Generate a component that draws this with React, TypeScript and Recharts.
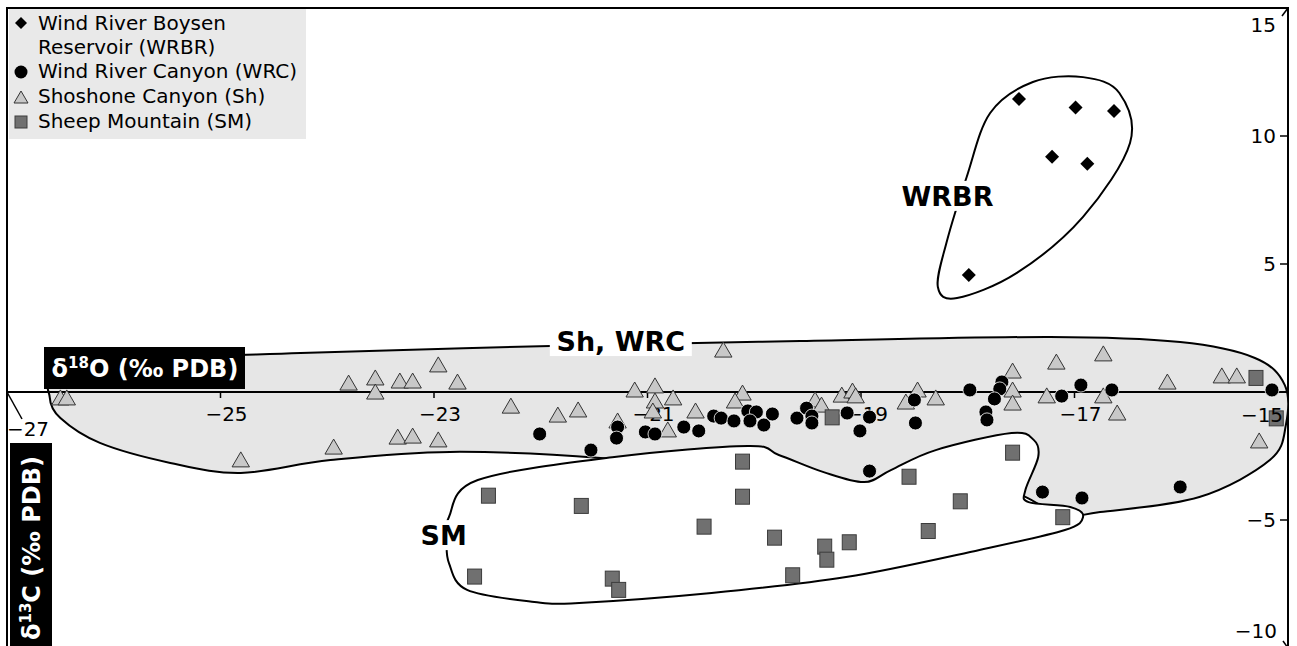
import React from 'react'
import { ScatterChart, Scatter, XAxis, YAxis, ReferenceArea, Legend } from 'recharts'

const FONT = '"DejaVu Sans", Verdana, sans-serif'

// [δ18O, δ13C]
const wrbr: [number, number][] = [
  [-17.52, 11.45], [-16.99, 11.11], [-16.63, 10.98], [-17.21, 9.19], [-16.88, 8.92], [-17.99, 4.57],
]

const wrc: [number, number][] = [
  [-22.01, -1.64], [-21.53, -2.27], [-21.28, -1.37], [-21.29, -1.8], [-21.02, -1.56], [-20.93, -1.64],
  [-20.66, -1.37], [-20.52, -1.52], [-20.38, -0.94], [-20.31, -1.02], [-20.19, -1.13], [-20.06, -0.74],
  [-19.98, -0.78], [-20.04, -1.13], [-19.91, -1.29], [-19.83, -0.86], [-19.6, -1.02], [-19.51, -0.63],
  [-19.46, -0.94], [-19.46, -1.21], [-19.13, -0.82], [-18.92, -0.98], [-19.01, -1.52], [-18.5, -0.31],
  [-18.49, -1.21], [-18.92, -3.09], [-17.98, 0.08], [-17.68, 0.39], [-17.7, 0.12], [-17.75, -0.27],
  [-17.83, -0.78], [-17.82, -1.09], [-17.12, -0.16], [-16.94, 0.27], [-16.65, 0.08], [-15.15, 0.08],
  [-17.3, -3.91], [-16.93, -4.14], [-16.01, -3.71],
]

const sh: [number, number][] = [
  [-26.5, -0.31], [-26.44, -0.31], [-24.81, -2.73], [-23.94, -2.23], [-23.8, 0.27], [-23.55, 0.47],
  [-23.55, -0.08], [-23.32, 0.35], [-23.2, 0.35], [-23.34, -1.84], [-23.2, -1.8], [-22.96, 0.98],
  [-22.78, 0.31], [-22.96, -1.95], [-22.28, -0.63], [-21.84, -0.98], [-21.65, -0.78], [-21.12, 0],
  [-20.93, 0.16], [-20.93, -0.43], [-20.76, -0.31], [-20.55, -0.82], [-21.28, -1.21], [-20.95, -0.82],
  [-20.81, -1.56], [-20.29, 1.56], [-20.11, -0.12], [-20.18, -0.43], [-19.43, -0.39], [-19.37, -0.59],
  [-19.18, -0.2], [-19.08, -0.04], [-19.05, -0.23], [-18.58, -0.47], [-18.47, 0], [-18.3, -0.31],
  [-17.58, 0.74], [-17.58, 0], [-17.58, -0.51], [-17.26, -0.23], [-17.17, 1.09], [-16.73, 1.41],
  [-16.73, -0.23], [-16.6, -0.9], [-16.13, 0.31], [-15.62, 0.55], [-15.48, 0.55], [-15.27, -1.99],
]

const sm: [number, number][] = [
  [-22.49, -4.05], [-21.62, -4.45], [-20.11, -2.72], [-20.11, -4.09], [-20.47, -5.26], [-19.81, -5.69],
  [-19.34, -6.04], [-19.32, -6.55], [-19.11, -5.87], [-19.64, -7.16], [-18.55, -3.31], [-18.07, -4.27],
  [-18.37, -5.43], [-17.58, -2.37], [-17.11, -4.89], [-22.62, -7.21], [-21.33, -7.29], [-21.27, -7.73],
  [-19.27, -0.99], [-15.3, 0.55], [-15.11, -1.03],
]

// hand-drawn group outlines
const shOutline: [number, number][] = [
  [-26.6, -0.2], [-26.52, 0.55], [-25.66, 1.25], [-24.25, 1.52], [-21.91, 1.8], [-19.57, 1.99],
  [-17.23, 2.15], [-16.01, 1.95], [-15.31, 1.33], [-15.03, 0.27], [-15.02, -1.29], [-15.17, -2.66],
  [-15.83, -4.1], [-16.76, -4.69], [-17.14, -4.8], [-17.7, -3.83], [-18.97, -4.06], [-20.51, -3.13],
  [-21.44, -2.58], [-22.85, -2.34], [-23.97, -2.66], [-24.81, -3.16], [-25.47, -2.77], [-26.13, -1.99],
  [-26.5, -1.02],
]

const smOutline: [number, number][] = [
  [-20.06, -2.11], [-19.77, -2.46], [-19.35, -3.13], [-18.97, -3.52], [-18.72, -3.05], [-18.3, -2.27],
  [-17.59, -1.6], [-17.38, -1.88], [-17.34, -2.54], [-17.46, -3.83], [-17.43, -4.3], [-17.04, -4.49],
  [-16.92, -4.88], [-17.09, -5.39], [-17.89, -6.17], [-19.14, -7.23], [-20.4, -7.85], [-21.64, -8.24],
  [-22.06, -8.2], [-22.69, -7.73], [-22.86, -6.68], [-22.88, -5.78], [-22.86, -4.88], [-22.59, -3.44],
  [-21.31, -2.54],
]

const wrbrOutline: [number, number][] = [
  [-16.92, 12.3], [-17.39, 12.11], [-17.79, 10.9], [-18.01, 8.4], [-18.2, 5.82], [-18.28, 4.1],
  [-18.1, 3.67], [-17.54, 4.65], [-16.92, 6.84], [-16.48, 9.73], [-16.58, 11.68],
]

const xTicks = [-27, -25, -23, -21, -19, -17, -15]
const yTicks = [15, 10, 5, -5, -10]

const legendItems = [
  { key: 'wrbr', lines: ['Wind River Boysen', 'Reservoir (WRBR)'] },
  { key: 'wrc', lines: ['Wind River Canyon (WRC)'] },
  { key: 'sh', lines: ['Shoshone Canyon (Sh)'] },
  { key: 'sm', lines: ['Sheep Mountain (SM)'] },
]

const toPts = (arr: [number, number][]) => arr.map(([x, y]) => ({ x, y }))
const minus = (v: number) => (v < 0 ? `\u2212${Math.abs(v)}` : `${v}`)

// closed catmull-rom through the outline points
function smoothClosed(pts: { x: number; y: number }[]) {
  const n = pts.length
  let d = `M${pts[0].x},${pts[0].y}`
  for (let i = 0; i < n; i++) {
    const p0 = pts[(i - 1 + n) % n]
    const p1 = pts[i]
    const p2 = pts[(i + 1) % n]
    const p3 = pts[(i + 2) % n]
    const c1x = p1.x + (p2.x - p0.x) / 6
    const c1y = p1.y + (p2.y - p0.y) / 6
    const c2x = p2.x - (p3.x - p1.x) / 6
    const c2y = p2.y - (p3.y - p1.y) / 6
    d += ` C${c1x},${c1y} ${c2x},${c2y} ${p2.x},${p2.y}`
  }
  return d + 'Z'
}

const blobLine = (fill: string) => (p: any) => (
  <path d={smoothClosed(p.points)} fill={fill} stroke="#000" strokeWidth={2} />
)

const noDot = () => <g />

const Diamond = ({ cx, cy }: any) => (
  <polygon points={`${cx},${cy - 7} ${cx + 7},${cy} ${cx},${cy + 7} ${cx - 7},${cy}`} fill="#000" />
)
const Dot = ({ cx, cy }: any) => <circle cx={cx} cy={cy} r={7} fill="#000" stroke="#fff" strokeWidth={0.8} />
const Tri = ({ cx, cy }: any) => (
  <polygon
    points={`${cx},${cy - 10} ${cx + 8.7},${cy + 5} ${cx - 8.7},${cy + 5}`}
    fill="#c8c8c8"
    stroke="#333"
    strokeWidth={1}
  />
)
const Sq = ({ cx, cy }: any) => (
  <rect x={cx - 7} y={cy - 7.5} width={14} height={15} fill="#707070" stroke="#3c3c3c" strokeWidth={1} />
)

const tickText = (x: number, y: number, v: number, anchor = 'middle') => (
  <text x={x} y={y} textAnchor={anchor as any} fontFamily={FONT} fontSize={20} fill="#000">
    {minus(v)}
  </text>
)

const XTick = ({ cx, cy, payload }: any) => {
  const v = payload.x
  if (v === -27) {
    return (
      <g>
        <line x1={cx} y1={cy} x2={cx + 15} y2={cy + 27} stroke="#000" strokeWidth={1.5} />
        {tickText(cx + 21, cy + 44, v)}
      </g>
    )
  }
  // the -15 label sits above the markers, drawn by its own series further down
  if (v === -15) return <g />
  return (
    <g>
      <line x1={cx} y1={cy} x2={cx} y2={cy + 6} stroke="#000" strokeWidth={1.5} />
      {tickText(cx + 6, cy + 29, v)}
    </g>
  )
}

const LastXTick = ({ cx, cy, payload }: any) => tickText(cx - 26, cy + 30, payload.x)

const YTick = ({ x, y, payload }: any) => {
  const v = payload.value
  if (v === 15) {
    return (
      <g>
        <line x1={x} y1={y} x2={x - 6} y2={y + 8} stroke="#000" strokeWidth={1.5} />
        {tickText(x - 12, y + 24, v, 'end')}
      </g>
    )
  }
  if (v === -10) {
    return (
      <g>
        <line x1={x} y1={y} x2={x - 5} y2={y - 7} stroke="#000" strokeWidth={1.5} />
        {tickText(x - 11, y - 10, v, 'end')}
      </g>
    )
  }
  return (
    <g>
      <line x1={x - 8} y1={y} x2={x} y2={y} stroke="#000" strokeWidth={1.5} />
      {tickText(x - 12, y + 7, v, 'end')}
    </g>
  )
}

const groupLabel = (text: string, w: number) => ({ cx, cy }: any) => (
  <g>
    <rect x={cx - w / 2} y={cy - 15} width={w} height={30} fill="#fff" />
    <text x={cx} y={cy + 10} textAnchor="middle" fontFamily={FONT} fontWeight="bold" fontSize={27} fill="#000">
      {text}
    </text>
  </g>
)

const XTitle = ({ cx, cy }: any) => (
  <g>
    <rect x={cx + 37} y={cy - 45} width={201} height={42} fill="#000" />
    <text x={cx + 138} y={cy - 15} textAnchor="middle" fontFamily={FONT} fontWeight="bold" fontSize={24} fill="#fff">
      <tspan>δ</tspan>
      <tspan fontSize={15} dy={-9}>18</tspan>
      <tspan dy={9}>O (‰ PDB)</tspan>
    </text>
  </g>
)

const YTitle = ({ cx, cy }: any) => {
  const tx = cx + 24
  const ty = cy - 100
  return (
    <g>
      <rect x={cx + 3} y={cy - 205} width={42} height={205} fill="#000" />
      <text
        x={tx}
        y={ty + 9}
        transform={`rotate(-90 ${tx} ${ty})`}
        textAnchor="middle"
        fontFamily={FONT}
        fontWeight="bold"
        fontSize={24}
        fill="#fff"
      >
        <tspan>δ</tspan>
        <tspan fontSize={15} dy={-9}>13</tspan>
        <tspan dy={9}>C (‰ PDB)</tspan>
      </text>
    </g>
  )
}

function LegendIcon({ kind }: { kind: string }) {
  return (
    <svg width={16} height={16} style={{ display: 'block' }}>
      {kind === 'wrbr' && <polygon points="8,2 14,8 8,14 2,8" fill="#000" />}
      {kind === 'wrc' && <circle cx={8} cy={8} r={6.5} fill="#000" />}
      {kind === 'sh' && <polygon points="8,2 15,14 1,14" fill="#c8c8c8" stroke="#333" strokeWidth={1} />}
      {kind === 'sm' && <rect x={2} y={2} width={12} height={12} fill="#707070" stroke="#3c3c3c" strokeWidth={1} />}
    </svg>
  )
}

function LegendBox() {
  return (
    <div
      style={{
        background: '#e9e9e9',
        width: 297,
        height: 130,
        boxSizing: 'border-box',
        paddingTop: 2,
        fontFamily: FONT,
        fontSize: 20,
        color: '#000',
      }}
    >
      {legendItems.map((item) => (
        <div key={item.key} style={{ display: 'flex', alignItems: 'flex-start' }}>
          <div
            style={{
              width: 29,
              height: item.lines.length > 1 ? 24 : 25,
              display: 'flex',
              alignItems: 'center',
              paddingLeft: 4,
              boxSizing: 'border-box',
            }}
          >
            <LegendIcon kind={item.key} />
          </div>
          <div style={{ lineHeight: item.lines.length > 1 ? '24px' : '25px', whiteSpace: 'nowrap' }}>
            {item.lines.map((l) => (
              <div key={l}>{l}</div>
            ))}
          </div>
        </div>
      ))}
    </div>
  )
}

export default function App() {
  return (
    <div style={{ position: 'absolute', left: 0, top: 0, width: 1297, height: 646, overflow: 'hidden', background: '#fff' }}>
      <ScatterChart width={1297} height={650} margin={{ top: 8, right: 0, bottom: 2, left: 7 }}>
        <XAxis type="number" dataKey="x" domain={[-27, -15]} hide allowDataOverflow />
        <YAxis
          type="number"
          dataKey="y"
          orientation="right"
          domain={[-10, 15]}
          ticks={yTicks}
          interval={0}
          width={9}
          tickSize={0}
          tickMargin={0}
          tickLine={false}
          axisLine={{ stroke: '#000', strokeWidth: 2 }}
          tick={<YTick />}
          allowDataOverflow
        />
        <ReferenceArea x1={-27} x2={-15} y1={-10} y2={15} fill="none" stroke="#000" strokeWidth={2} />

        <Scatter data={toPts(shOutline)} shape={noDot} line={blobLine('#e6e6e6')} isAnimationActive={false} />
        <Scatter data={toPts(smOutline)} shape={noDot} line={blobLine('#fff')} isAnimationActive={false} />
        <Scatter data={toPts(wrbrOutline)} shape={noDot} line={blobLine('#fff')} isAnimationActive={false} />

        <Scatter
          data={xTicks.map((x) => ({ x, y: 0 }))}
          shape={XTick}
          line={{ stroke: '#000', strokeWidth: 2 }}
          isAnimationActive={false}
        />

        <Scatter name="Shoshone Canyon (Sh)" data={toPts(sh)} shape={Tri} isAnimationActive={false} />
        <Scatter name="Sheep Mountain (SM)" data={toPts(sm)} shape={Sq} isAnimationActive={false} />
        <Scatter name="Wind River Canyon (WRC)" data={toPts(wrc)} shape={Dot} isAnimationActive={false} />
        <Scatter name="Wind River Boysen Reservoir (WRBR)" data={toPts(wrbr)} shape={Diamond} isAnimationActive={false} />

        <Scatter data={[{ x: xTicks[xTicks.length - 1], y: 0 }]} shape={LastXTick} isAnimationActive={false} />

        <Scatter data={[{ x: -18.19, y: 7.66 }]} shape={groupLabel('WRBR', 96)} isAnimationActive={false} />
        <Scatter data={[{ x: -21.25, y: 1.99 }]} shape={groupLabel('Sh, WRC', 142)} isAnimationActive={false} />
        <Scatter data={[{ x: -22.91, y: -5.59 }]} shape={groupLabel('SM', 52)} isAnimationActive={false} />

        <Scatter data={[{ x: -27, y: 0 }]} shape={XTitle} isAnimationActive={false} />
        <Scatter data={[{ x: -27, y: -10 }]} shape={YTitle} isAnimationActive={false} />

        <Legend
          layout="vertical"
          align="center"
          verticalAlign="middle"
          wrapperStyle={{ left: 9, top: 9, width: 297, height: 130 }}
          content={() => <LegendBox />}
        />
      </ScatterChart>
    </div>
  )
}
